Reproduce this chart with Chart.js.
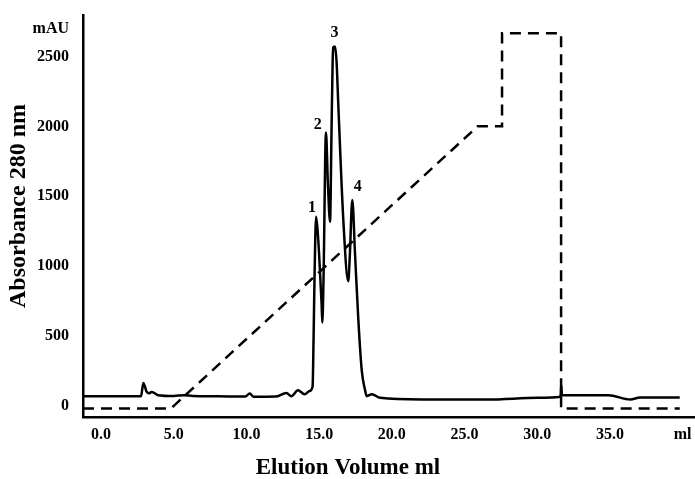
<!DOCTYPE html>
<html>
<head>
<meta charset="utf-8">
<title>Elution profile</title>
<script src="https://cdn.jsdelivr.net/npm/chart.js@4/dist/chart.umd.min.js"></script>
<style>
    body { margin: 0; background: #fff; }
    #wrap { width: 695px; height: 479px; position: relative; }
</style>
</head>
<body>
<div id="wrap"><canvas id="elution-canvas"></canvas></div>
<script>
// absorbance trace (ml, mAU)
const volume = [-1.24, 2.75, 2.91, 3.14, 3.3, 3.49, 3.92, 5.0, 5.7, 6.3, 8.0, 9.9, 10.23, 10.5, 12.0, 12.75, 13.09, 13.55, 14.0, 14.35, 14.55,
    14.62, 14.68, 14.79, 14.9, 15.0, 15.17, 15.22, 15.3, 15.47, 15.6, 15.75, 15.85, 15.93, 16.0, 16.1, 16.2, 16.32, 16.67, 17.0, 17.1, 17.28, 17.47, 17.7, 17.93, 18.16,
    18.27, 18.62, 19.19, 22.06, 26.6, 30.05, 31.6, 31.65, 31.7, 34.9, 36.4, 37.07, 39.8];
const absorbance = [70, 70, 165, 101, 92, 101, 78, 72, 78, 72, 70, 68, 90, 66, 68, 94, 71, 113, 85, 108, 140,
    500, 900, 1354, 1250, 1082, 730, 597, 900, 1956, 1600, 1318, 1950, 2470, 2570, 2570, 2460, 2150, 1318, 893, 1050, 1474, 1084, 610, 255, 113,
    71, 85, 59, 47, 47, 59, 67, 150, 78, 78, 47, 62, 62];

// salt gradient, drawn on the same axis
const gradVolume = [-1.24, 4.8, 25.9, 27.58, 27.58, 31.64, 31.64, 39.8];
const gradLevel = [-18, -18, 2000, 2000, 2665, 2665, -18, -18];

// peak numbers
const peakNames = ["1", "2", "3", "4"];
const peakVolume = [14.51, 14.9, 16.05, 17.65];
const peakLevel = [1417, 2013, 2672, 1566];

// axis ticks
const xTickValues = [0, 5, 10, 15, 20, 25, 30, 35, 40];
const xTickLabels = ["0.0", "5.0", "10.0", "15.0", "20.0", "25.0", "30.0", "35.0", "ml"];
const yTickValues = [0, 500, 1000, 1500, 2000, 2500, 2700];
const yTickLabels = ["0", "500", "1000", "1500", "2000", "2500", "mAU"];

const FONT = "'Liberation Serif', 'Times New Roman', serif";

function toPoints(xs, ys) {
    let pts = [];
    for (let i = 0; i < xs.length; i++) {
        pts.push({x: xs[i], y: ys[i]});
    }
    return pts;
}

const textPlugin = {
    id: 'texts',
    afterDraw(chart) {
        const ctx = chart.ctx;
        const xs = chart.scales.x;
        const ys = chart.scales.y;
        ctx.save();
        ctx.fillStyle = '#000';
        ctx.textAlign = 'center';
        ctx.textBaseline = 'middle';

        ctx.font = `bold 16px ${FONT}`;
        for (let i = 0; i < peakNames.length; i++) {
            ctx.fillText(peakNames[i], xs.getPixelForValue(peakVolume[i]), ys.getPixelForValue(peakLevel[i]));
        }

        // axis titles
        ctx.font = `bold 23px ${FONT}`;
        ctx.fillText("Elution Volume ml", 348, 468);

        ctx.translate(19, 206);
        ctx.rotate(-Math.PI / 2);
        ctx.font = `bold 24px ${FONT}`;
        ctx.fillText("Absorbance 280 nm", 0, 0);
        ctx.restore();
    }
};

const ctx = document.getElementById('elution-canvas');

new Chart(ctx, {
    type: 'line',
    data: {
        datasets: [
            {
                label: 'A280',
                data: toPoints(volume, absorbance),
                borderColor: '#000',
                borderWidth: 2.5,
                pointRadius: 0,
                cubicInterpolationMode: 'monotone'
            },
            {
                label: 'gradient',
                data: toPoints(gradVolume, gradLevel),
                borderColor: '#000',
                borderWidth: 2.5,
                borderDash: [11, 7],
                pointRadius: 0,
                tension: 0
            }
        ]
    },
    options: {
        responsive: true,
        maintainAspectRatio: false,
        animation: false,
        layout: {
            padding: {left: 0, top: 12, right: 0, bottom: 0}
        },
        plugins: {
            legend: {display: false},
            tooltip: {enabled: false}
        },
        scales: {
            x: {
                type: 'linear',
                min: -1.24,
                max: 40.85,
                grid: {display: false},
                border: {display: true, color: '#000', width: 2.5},
                afterBuildTicks: (scale) => {
                    scale.ticks = xTickValues.map(v => ({value: v}));
                },
                afterFit: (scale) => {
                    scale.height = 62;
                },
                ticks: {
                    color: '#000',
                    padding: 0,
                    maxRotation: 0,
                    autoSkip: false,
                    font: {family: FONT, size: 16, weight: 'bold'},
                    callback: (value, index) => xTickLabels[index]
                }
            },
            y: {
                type: 'linear',
                min: -78,
                max: 2792,
                grid: {display: false},
                border: {display: true, color: '#000', width: 2.5},
                afterBuildTicks: (scale) => {
                    scale.ticks = yTickValues.map(v => ({value: v}));
                },
                afterFit: (scale) => {
                    scale.width = 83;
                },
                ticks: {
                    color: '#000',
                    padding: 6,
                    autoSkip: false,
                    font: {family: FONT, size: 16, weight: 'bold'},
                    callback: (value, index) => yTickLabels[index]
                }
            }
        }
    },
    plugins: [textPlugin]
});
</script>
</body>
</html>
